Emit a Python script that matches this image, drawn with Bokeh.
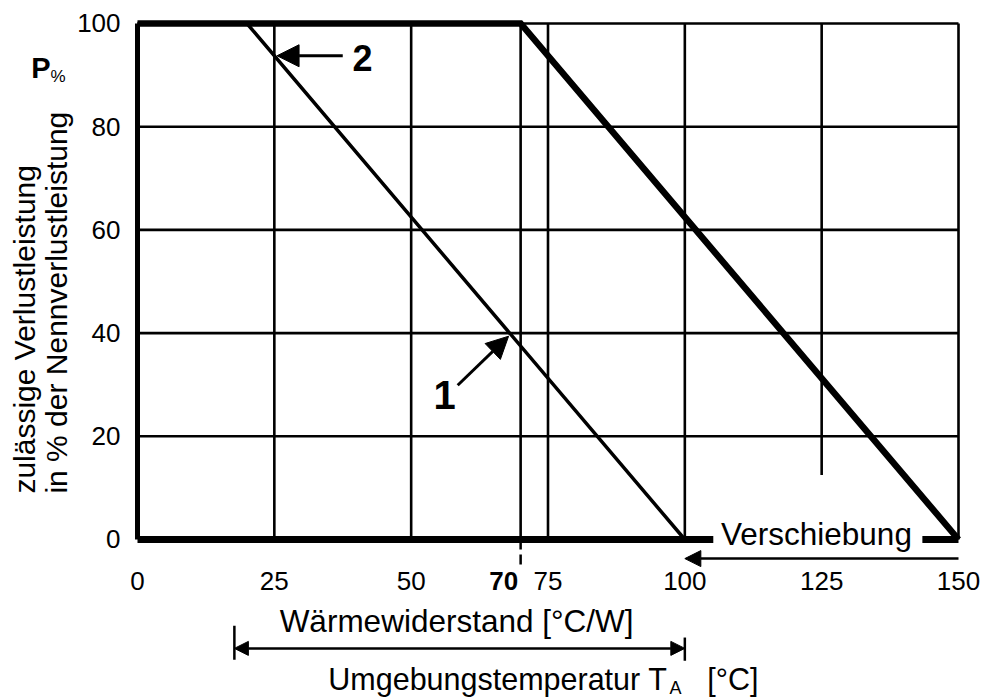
import numpy as np
from bokeh.plotting import figure
from bokeh.models import Range1d, Label, Arrow, NormalHead, BoxAnnotation
from bokeh.core.properties import value
from bokeh.embed import file_html
from bokeh.resources import INLINE

# ---------------- data ----------------
x_ticks = [0, 25, 50, 75, 100, 125, 150]
y_ticks = [0, 20, 40, 60, 80, 100]
marked_tick = 70

# curve 1: derating over thermal resistance, curve 2: shifted by 50 (ambient temperature)
curve1_x = [0, 20, 100]
curve1_y = [100, 100, 0]
curve2_x = [0, 70, 150]
curve2_y = [100, 100, 0]

# grid lines
vgrid_x = [25, 50, 70, 75, 100, 125, 150]
vgrid_from = [0, 0, 0, 0, 0, 12.5, 0]
vgrid_to = [100, 100, 100, 100, 100, 100, 100]
hgrid_y = [20, 40, 60, 80, 100]

# range of the double arrow (Wärmewiderstand / Umgebungstemperatur)
span_start, span_end = 17.7, 100

FONT = "Liberation Sans"

# ---------------- figure ----------------
# the frame fills the whole canvas; 0..150 maps to 137..958 px, 100..0 to 23..539 px
p = figure(width=983, height=698, output_backend="svg", toolbar_location=None,
           x_range=Range1d(-25.031, 154.568), y_range=Range1d(-30.814, 104.457),
           x_axis_location=None, y_axis_location=None,
           min_border=0, min_border_left=0, min_border_right=0,
           min_border_top=0, min_border_bottom=0)
p.outline_line_color = None
p.xgrid.visible = False
p.ygrid.visible = False
p.background_fill_color = "white"
p.border_fill_color = "white"

# tick labels
p.text(x=x_ticks, y=[-8.1] * len(x_ticks), text=[str(t) for t in x_ticks],
       text_font=value(FONT), text_font_size=value("26px"), text_color="black",
       text_align="center", text_baseline="middle")
p.text(x=[marked_tick - 3.1], y=[-8.1], text=[str(marked_tick)],
       text_font=value(FONT), text_font_size=value("26px"), text_font_style="bold",
       text_color="black", text_align="center", text_baseline="middle")
p.text(x=[-3.1] * len(y_ticks), y=y_ticks, text=[str(t) for t in y_ticks],
       text_font=value(FONT), text_font_size=value("26px"), text_color="black",
       text_align="right", text_baseline="middle")

# grid
n = len(hgrid_y)
p.segment(x0=vgrid_x, y0=vgrid_from, x1=vgrid_x, y1=vgrid_to, line_color="black", line_width=2.6)
p.segment(x0=[x_ticks[0]] * n, y0=hgrid_y, x1=[x_ticks[-1]] * n, y1=hgrid_y,
          line_color="black", line_width=2.6)

# thick frame parts
p.line([x_ticks[0], x_ticks[0]], [y_ticks[0], y_ticks[-1]], line_color="black", line_width=5)
p.line([x_ticks[0], x_ticks[-1]], [y_ticks[0], y_ticks[0]], line_color="black", line_width=7)

# curves
p.line(curve2_x, curve2_y, line_color="black", line_width=6.5, line_join="miter")
p.line(curve1_x, curve1_y, line_color="black", line_width=3.5)

# gap in the bottom line for "Verschiebung"
p.add_layout(BoxAnnotation(left=105.2, right=143.4, bottom=-0.95, top=0.95,
                           fill_color="white", fill_alpha=1, line_alpha=0))
p.add_layout(Label(x=124.05, y=0.97, text="Verschiebung", text_align="center",
                   text_baseline="alphabetic", text_font=FONT, text_font_size="31.5px",
                   text_color="black"))
p.add_layout(Arrow(x_start=curve2_x[-1], y_start=-3.7, x_end=curve1_x[-1], y_end=-3.7,
                   line_width=2.5, line_color="black",
                   end=NormalHead(size=16, fill_color="black", line_color="black")))

# marked tick 70
p.add_layout(Arrow(x_start=marked_tick, y_start=0, x_end=marked_tick, y_end=-5, end=None,
                   line_width=2.5, line_color="black", line_dash="10 5"))

# bottom annotations
p.add_layout(Label(x=58.3, y=-15.87, text="Wärmewiderstand [°C/W]", text_align="center",
                   text_baseline="alphabetic", text_font=FONT, text_font_size="31.5px",
                   text_color="black"))
p.add_layout(Arrow(x_start=span_start, y_start=-21.1, x_end=span_end, y_end=-21.1,
                   line_width=2.5, line_color="black",
                   start=NormalHead(size=14, fill_color="black", line_color="black"),
                   end=NormalHead(size=14, fill_color="black", line_color="black")))
p.add_layout(Arrow(x_start=span_start, y_start=-16.7, x_end=span_start, y_end=-23.3, end=None,
                   line_width=2.5, line_color="black"))
p.add_layout(Arrow(x_start=span_end, y_start=-19.0, x_end=span_end, y_end=-23.5, end=None,
                   line_width=2.5, line_color="black"))
p.add_layout(Label(x=96.8, y=-26.97, text="Umgebungstemperatur T", text_align="right",
                   text_baseline="alphabetic", text_font=FONT, text_font_size="30.5px",
                   text_color="black"))
p.add_layout(Label(x=97.2, y=-28.8, text="A", text_align="left",
                   text_baseline="alphabetic", text_font=FONT, text_font_size="18px",
                   text_color="black"))
p.add_layout(Label(x=104.1, y=-26.97, text="[°C]", text_align="left",
                   text_baseline="alphabetic", text_font=FONT, text_font_size="30.5px",
                   text_color="black"))

# y axis title
p.add_layout(Label(x=-20.65, y=8.9, text="zulässige Verlustleistung", angle=np.pi / 2,
                   text_align="left", text_baseline="middle", text_font=FONT,
                   text_font_size="30px", text_color="black"))
p.add_layout(Label(x=-14.8, y=8.9, text="in % der Nennverlustleistung", angle=np.pi / 2,
                   text_align="left", text_baseline="middle", text_font=FONT,
                   text_font_size="30px", text_color="black"))
p.add_layout(Label(x=-19.4, y=91.43, text="P", text_align="left", text_baseline="alphabetic",
                   text_font=FONT, text_font_size="29px", text_font_style="bold",
                   text_color="black"))
p.add_layout(Label(x=-15.9, y=89.73, text="%", text_align="left", text_baseline="alphabetic",
                   text_font=FONT, text_font_size="17px", text_color="black"))

# curve markers
p.add_layout(Arrow(x_start=37.5, y_start=93.75, x_end=25.5, y_end=93.75, line_width=3,
                   line_color="black",
                   end=NormalHead(size=22, fill_color="black", line_color="black")))
p.add_layout(Label(x=41.1, y=93.4, text="2", text_align="center", text_baseline="middle",
                   text_font=FONT, text_font_size="36px", text_font_style="bold",
                   text_color="black"))
p.add_layout(Arrow(x_start=58.5, y_start=29.9, x_end=67.8, y_end=39.4, line_width=3,
                   line_color="black",
                   end=NormalHead(size=22, fill_color="black", line_color="black")))
p.add_layout(Label(x=56.1, y=28.1, text="1", text_align="center", text_baseline="middle",
                   text_font=FONT, text_font_size="40px", text_font_style="bold",
                   text_color="black"))

open("out.html", "w").write(file_html(p, INLINE))
